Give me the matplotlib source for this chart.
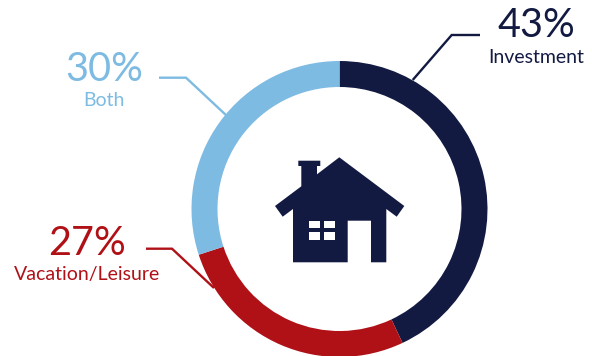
import matplotlib
matplotlib.use("Agg")
import matplotlib.pyplot as plt
from matplotlib.patches import Polygon, Rectangle

# Purpose of second-home purchases, share of buyers
categories = ["Investment", "Vacation/Leisure", "Both"]
shares = [43, 27, 30]
colors = ["#131A42", "#AF1117", "#7DBBE2"]

W, H = 592, 356
plt.rcParams["font.family"] = ["Lato", "DejaVu Sans"]

fig = plt.figure(figsize=(W / 100, H / 100), dpi=100)
ax = fig.add_axes([0, 0, 1, 1])


def flip(points):
    """Convert top-left pixel positions to the axes' upward y scale."""
    return [(x, H - y) for x, y in points]


ax.pie(shares, colors=colors, startangle=90, counterclock=False,
       center=(339.5, H - 209), radius=148, frame=True,
       wedgeprops=dict(width=26, linewidth=0))
ax.set_xlim(0, W)
ax.set_ylim(0, H)
ax.set_aspect("equal")
ax.axis("off")

# Leader lines and callouts, one per slice
callouts = {
    "Investment": dict(line=[(412.7, 80), (451.7, 35), (480, 35)],
                       x=536, value_y=37, label_y=63),
    "Vacation/Leisure": dict(line=[(146, 248.7), (172, 248.7), (214, 288)],
                             x=87, value_y=255, label_y=280),
    "Both": dict(line=[(159, 77.7), (186, 77.7), (227, 116)],
                 x=104, value_y=81, label_y=106),
}
for name, share, color in zip(categories, shares, colors):
    c = callouts[name]
    xs, ys = zip(*flip(c["line"]))
    ax.plot(xs, ys, color=color, lw=1.7, solid_joinstyle="miter",
            solid_capstyle="butt", zorder=1)
    ax.text(c["x"], H - c["value_y"], f"{share}%", color=color, fontsize=28.5,
            ha="center", va="baseline")
    ax.text(c["x"], H - c["label_y"], name, color=color, fontsize=14,
            ha="center", va="baseline")

# House icon in the middle of the ring
house = [(339.3, 157.3), (404.3, 206), (396.7, 216.7), (386.3, 209),
         (386.3, 262.3), (371, 262.3), (371, 220.7), (347.7, 220.7),
         (347.7, 262.3), (293, 262.3), (293, 209), (282.7, 216.7),
         (275, 206), (301.3, 186.3), (301.3, 166), (298.3, 166),
         (298.3, 160.7), (320.3, 160.7), (320.3, 166), (317, 166),
         (317, 174.3)]
ax.add_patch(Polygon(flip(house), closed=True, facecolor=colors[0],
                     edgecolor="none", zorder=3))
for px, py in [(308.7, 220.7), (323.7, 220.7), (308.7, 232.3), (323.7, 232.3)]:
    ax.add_patch(Rectangle((px, H - py - 7.7), 11.3, 7.7, facecolor="white",
                           edgecolor="none", zorder=4))

fig.savefig("out.png", dpi=100)
